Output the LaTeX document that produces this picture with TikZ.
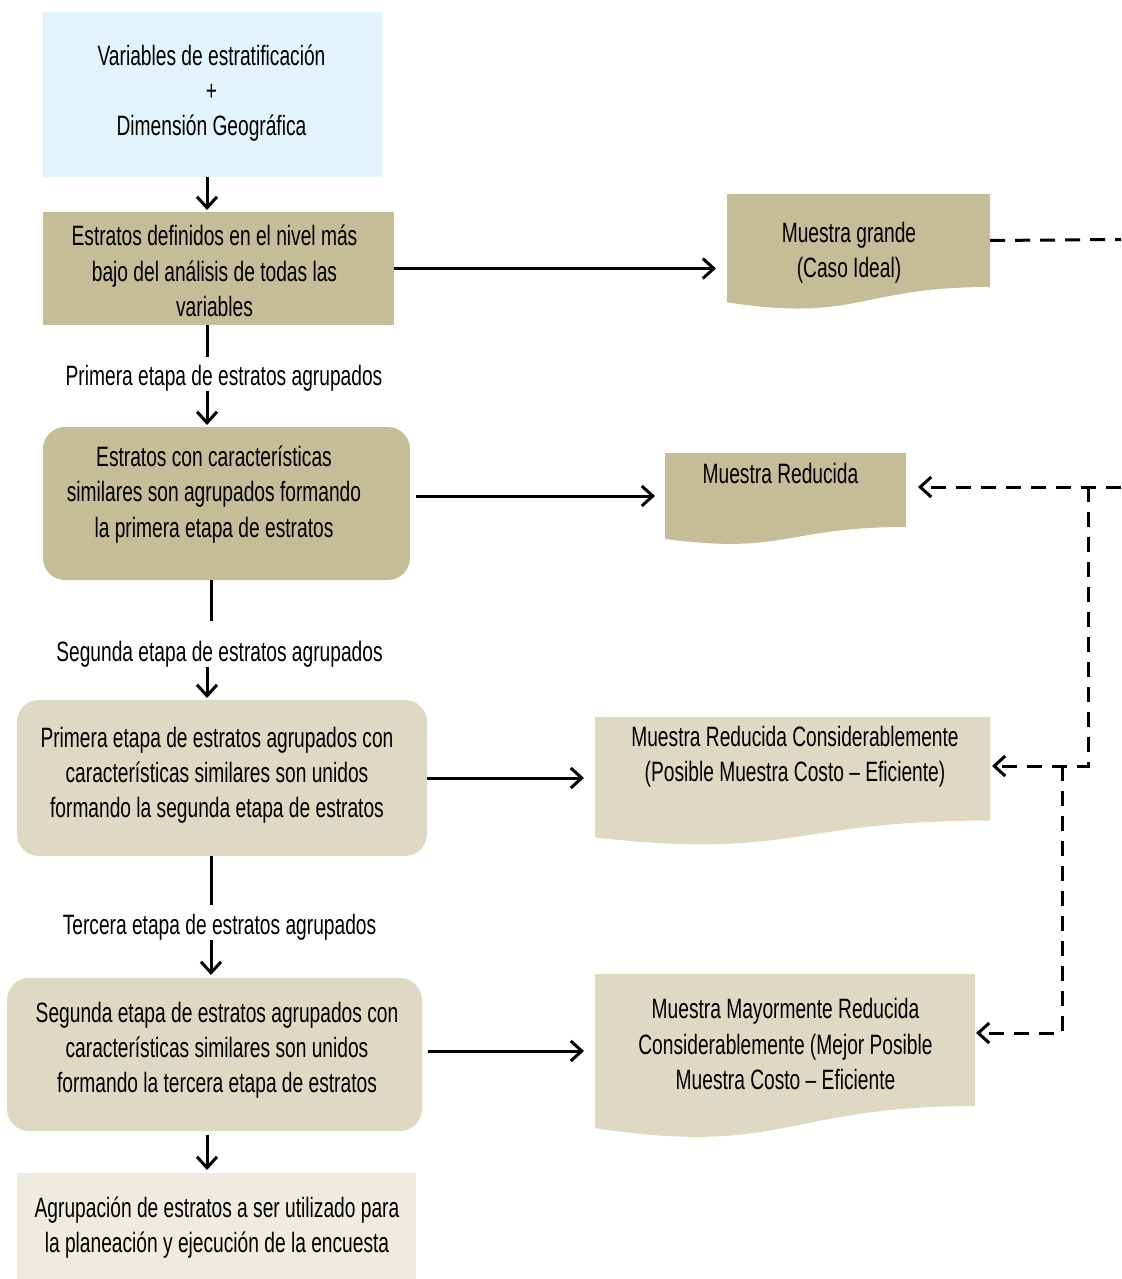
\documentclass[tikz,border=0pt]{standalone}
\usepackage{fontspec}
\setmainfont{Liberation Sans}[FakeStretch=0.685]
\usetikzlibrary{arrows.meta,calc}

\definecolor{skyfill}{RGB}{226,243,251}
\definecolor{khaki}{RGB}{196,189,151}
\definecolor{tan}{RGB}{221,217,195}
\definecolor{paletan}{RGB}{238,236,225}

% wavy-bottom document: #1 = body node, #2 = full height (px), #3 = colour
\newcommand\wavedoc[3]{%
  \fill[#3] (#1.north west) -- (#1.north east) -- (#1.south east)
    .. controls (#1.south) and ($(#1.north)+(0,1.1075*#2)$)
    .. ($(#1.north west)+(0,0.934*#2)$) -- cycle;}

\begin{document}
\begin{tikzpicture}[x=0.5pt,y=-0.5pt,
  every node/.style={font=\fontsize{14pt}{17.6pt}\selectfont},
  blk/.style={rectangle,inner sep=0pt,outer sep=0pt},
  rblk/.style={blk,rounded corners=11pt},
  txt/.style={inner sep=0pt,align=center},
  lab/.style={inner sep=0pt},
  conn/.style={line width=1.5pt,-{Straight Barb[length=5.5pt,width=10pt]}},
  plain/.style={line width=1.5pt},
  dashline/.style={line width=1.5pt,dash pattern=on 7.5pt off 5pt},
  dasharrow/.style={dashline,-{Straight Barb[length=5.5pt,width=10pt]}}]
\useasboundingbox (0,0) rectangle (1121,1279);

% connector axes
\coordinate (xa) at (207,0);
\coordinate (xb) at (211,0);

% main column of boxes
\node[blk,fill=skyfill,minimum width=169.5pt,minimum height=82.5pt] (b1) at (212.5,94.5) {};
\node[blk,fill=khaki,minimum width=175.5pt,minimum height=56.5pt] (b2) at (218.5,268.5) {};
\node[rblk,fill=khaki,minimum width=183.5pt,minimum height=76.5pt] (b3) at (226.5,503.5) {};
\node[rblk,fill=tan,minimum width=205pt,minimum height=78pt] (b4) at (222,778) {};
\node[rblk,fill=tan,minimum width=207.5pt,minimum height=76.5pt] (b5) at (214.5,1054.5) {};
\node[blk,fill=paletan,minimum width=199.5pt,minimum height=53pt] (b6) at (216.5,1226) {};

% sample documents (upper body part)
\node[blk,minimum width=131.5pt,minimum height=46.5pt] (d1) at (858.5,240.5) {};
\node[blk,minimum width=120.5pt,minimum height=37pt] (d2) at (785.5,490) {};
\node[blk,minimum width=197.5pt,minimum height=51.75pt] (d3) at (792.5,768.75) {};
\node[blk,minimum width=190pt,minimum height=66pt] (d4) at (785,1040) {};
\wavedoc{d1}{116}{khaki}
\wavedoc{d2}{92}{khaki}
\wavedoc{d3}{129}{tan}
\wavedoc{d4}{165}{tan}

% texts
\node[txt] (t1) at (211.5,93) {Variables de estratificación\\+\\Dimensión Geográfica};
\node[txt] (t2) at (214.5,271) {Estratos definidos en el nivel más\\bajo del análisis de todas las\\variables};
\node[txt] (t3) at (214,494.5) {Estratos con características\\similares son agrupados formando\\la primera etapa de estratos};
\node[txt] (t4) at (217,775) {Primera etapa de estratos agrupados con\\características similares son unidos\\formando la segunda etapa de estratos};
\node[txt] (t5) at (217,1050) {Segunda etapa de estratos agrupados con\\características similares son unidos\\formando la tercera etapa de estratos};
\node[txt] (t6) at (217,1227.5) {Agrupación de estratos a ser utilizado para\\la planeación y ejecución de la encuesta};
\node[txt] (u1) at (849,252.5) {Muestra grande\\(Caso Ideal)};
\node[txt] (u2) at (780.5,473.5) {Muestra Reducida};
\node[txt] (u3) at (795,757) {Muestra Reducida Considerablemente\\(Posible Muestra Costo – Eficiente)};
\node[txt] (u4) at (785.5,1044) {Muestra Mayormente Reducida\\Considerablemente (Mejor Posible\\Muestra Costo – Eficiente};

% stage labels
\node[lab] (l1) at (224,378) {Primera etapa de estratos agrupados};
\node[lab] (l2) at (219.5,654) {Segunda etapa de estratos agrupados};
\node[lab] (l3) at (219.5,927) {Tercera etapa de estratos agrupados};

% vertical flow
\draw[conn,shorten >=1pt] (b1.south -| xa) -- (b2.north -| xa);
\draw[plain,shorten >=4pt] (b2.south -| xa) -- (l1.north -| xa);
\draw[conn,shorten >=1pt] (l1.south -| xa) -- (b3.north -| xa);
\draw[plain,shorten >=10pt] (b3.south -| xb) -- (l2.north -| xb);
\draw[conn,shorten >=1pt] (l2.south -| xa) -- (b4.north -| xa);
\draw[plain,shorten >=4.5pt] (b4.south -| xb) -- (l3.north -| xb);
\draw[conn,shorten >=1.5pt] (l3.south -| xb) -- (b5.north -| xb);
\draw[conn,shorten <=2pt,shorten >=1.5pt] (b5.south -| xa) -- (b6.north -| xa);

% horizontal flow to samples
\draw[conn,shorten >=5.5pt] (b2.east) -- (b2.east -| d1.west);
\draw[conn,shorten <=3pt,shorten >=5pt] ([yshift=3.75pt]b3.east) -- ([yshift=3.75pt]b3.east -| d2.west);
\draw[conn,shorten >=5.5pt] (b4.east) -- (b4.east -| d3.west);
\draw[conn,shorten <=3pt,shorten >=5.5pt] ([yshift=1.75pt]b5.east) -- ([yshift=1.75pt]b5.east -| d4.west);

% dashed feedback paths
\coordinate (r1) at (1121,239.5);
\coordinate (r2) at (1121,487);
\coordinate (j1) at (1088,487);
\coordinate (j2) at (1062,766);
\coordinate (j3) at (1062,1033);
\draw[dashline] (d1.east) -- (r1);
\draw[dasharrow,shorten >=6pt] (r2) -- (d2.east |- r2);
\draw[dasharrow,shorten >=1pt] (j1) |- (d3.east |- j2);
\draw[dasharrow,shorten >=0.5pt] (j2) |- (d4.east |- j3);
\end{tikzpicture}
\end{document}
